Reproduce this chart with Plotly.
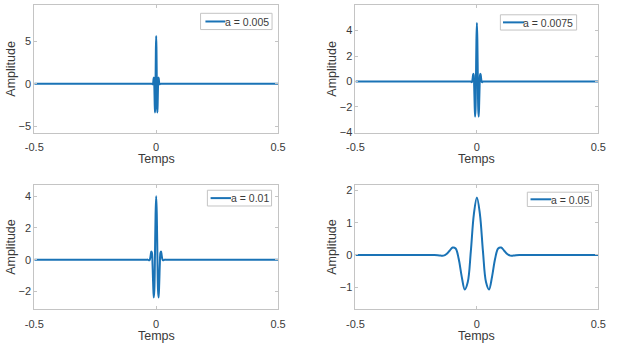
import plotly.graph_objects as go

# ---- data ----
t_a005 = [-0.5, -0.02, -0.0175, -0.015, -0.01375, -0.0125, -0.01125, -0.01, -0.00875, -0.0075,
          -0.00625, -0.005, -0.00375, -0.0025, -0.00125, 0, 0.00125, 0.0025, 0.00375, 0.005,
          0.00625, 0.0075, 0.00875, 0.01, 0.01125, 0.0125, 0.01375, 0.015, 0.0175, 0.02, 0.5]
y_a005 = [0, 0, -0.01, -0.06, -0.05, 0.09, 0.40, 0.73, 0.63, -0.38,
          -2.12, -3.38, -2.67, 0.35, 4.00, 5.64, 4.00, 0.35, -2.67, -3.38,
          -2.12, -0.38, 0.63, 0.73, 0.40, 0.09, -0.05, -0.06, -0.01, 0, 0]

t_a0075 = [-0.5, -0.03, -0.0263, -0.0225, -0.0206, -0.0188, -0.0169, -0.015, -0.0131, -0.0113,
           -0.0094, -0.0075, -0.0056, -0.0038, -0.0019, 0, 0.0019, 0.0038, 0.0056, 0.0075,
           0.0094, 0.0113, 0.0131, 0.015, 0.0169, 0.0188, 0.0206, 0.0225, 0.0263, 0.03, 0.5]
y_a0075 = [0, 0, 0, -0.05, -0.04, 0.07, 0.33, 0.60, 0.51, -0.31,
           -1.73, -2.76, -2.18, 0.29, 3.26, 4.60, 3.26, 0.29, -2.18, -2.76,
           -1.73, -0.31, 0.51, 0.60, 0.33, 0.07, -0.04, -0.05, 0, 0, 0]

t_a01 = [-0.5, -0.04, -0.035, -0.03, -0.0275, -0.025, -0.0225, -0.02, -0.0175, -0.015,
         -0.0125, -0.01, -0.0075, -0.005, -0.0025, 0, 0.0025, 0.005, 0.0075, 0.01,
         0.0125, 0.015, 0.0175, 0.02, 0.0225, 0.025, 0.0275, 0.03, 0.035, 0.04, 0.5]
y_a01 = [0, 0, 0, -0.04, -0.04, 0.06, 0.28, 0.52, 0.44, -0.27,
         -1.50, -2.39, -1.89, 0.25, 2.83, 3.99, 2.83, 0.25, -1.89, -2.39,
         -1.50, -0.27, 0.44, 0.52, 0.28, 0.06, -0.04, -0.04, 0, 0, 0]

t_a05 = [-0.5, -0.2, -0.175, -0.15, -0.1375, -0.125, -0.1125, -0.1, -0.0875, -0.075,
         -0.0625, -0.05, -0.0375, -0.025, -0.0125, 0, 0.0125, 0.025, 0.0375, 0.05,
         0.0625, 0.075, 0.0875, 0.1, 0.1125, 0.125, 0.1375, 0.15, 0.175, 0.2, 0.5]
y_a05 = [0, 0, 0, -0.02, -0.02, 0.03, 0.13, 0.23, 0.20, -0.12,
         -0.67, -1.07, -0.84, 0.11, 1.26, 1.78, 1.26, 0.11, -0.84, -1.07,
         -0.67, -0.12, 0.20, 0.23, 0.13, 0.03, -0.02, -0.02, 0, 0, 0]

labels = ["a = 0.005", "a = 0.0075", "a = 0.01", "a = 0.05"]
series_t = [t_a005, t_a0075, t_a01, t_a05]
series_y = [y_a005, y_a0075, y_a01, y_a05]

x_ticks = [-0.5, 0, 0.5]
x_ticklabels = ["-0.5", "0", "0.5"]
y_ticks = [[-5, 0, 5], [-4, -2, 0, 2, 4], [-2, 0, 2, 4], [-1, 0, 1, 2]]
y_ranges = [[-5.81, 9.34], [-4.05, 6.04], [-3.14, 4.73], [-1.69, 2.18]]

# ---- layout geometry (px) ----
W, H = 617, 348
col_x = [(26.0, 276.7), (356.3, 606.0)]
row_y = [(4.7, 135.0), (187.3, 314.0)]
LINE = "#1a73b6"
AXC = "#c4c4c4"
TXT = "#3a3a3a"
FONT = "Liberation Sans, Arial, sans-serif"

# legend boxes: (x0, y0, x1, y1), sample line (x0, x1, y), label right edge
legend_box = [(197.0, 13.5, 270.5, 30.0), (505.3, 15.0, 583.7, 30.5),
              (204.0, 193.0, 270.0, 209.0), (533.0, 195.0, 599.0, 209.5)]
legend_line = [(202.0, 222.5, 21.8), (508.0, 529.7, 22.7),
               (207.3, 228.3, 201.0), (536.3, 557.7, 202.2)]
legend_text_right = [267.0, 580.5, 267.0, 596.0]

fig = go.Figure()
shapes = []
annotations = []

for i in range(4):
    r, c = divmod(i, 2)
    sfx = "" if i == 0 else str(i + 1)
    fig.add_trace(go.Scatter(
        x=series_t[i], y=series_y[i], mode="lines", name=labels[i],
        line=dict(color=LINE, width=2, shape="spline", smoothing=1),
        xaxis="x" + sfx, yaxis="y" + sfx, showlegend=False,
    ))
    x0, x1 = col_x[c]
    y0, y1 = row_y[r]
    common = dict(showline=True, linecolor=AXC, linewidth=1, mirror="ticks",
                  ticks="inside", ticklen=3, tickcolor=AXC, showgrid=False,
                  zeroline=False, tickfont=dict(family=FONT, size=11, color=TXT))
    fig.update_layout(**{
        "xaxis" + sfx: dict(domain=[x0 / W, x1 / W], range=[-0.5, 0.5],
                            tickvals=x_ticks, ticktext=x_ticklabels,
                            ticklabelstandoff=4, anchor="y" + sfx, **common),
        "yaxis" + sfx: dict(domain=[1 - y1 / H, 1 - y0 / H], range=y_ranges[i],
                            tickvals=y_ticks[i], anchor="x" + sfx,
                            title=dict(text="Amplitude", standoff=0,
                                       font=dict(family=FONT, size=12.5, color=TXT)),
                            **common),
    })
    # x-axis title
    annotations.append(dict(text="Temps", x=(x0 + x1) / 2 / W, y=1 - (y1 + 26.5) / H,
                            xref="paper", yref="paper", showarrow=False, borderpad=0,
                            xanchor="center", yanchor="middle",
                            font=dict(family=FONT, size=12.5, color=TXT)))
    # legend (box, sample line, label)
    bx0, by0, bx1, by1 = legend_box[i]
    shapes.append(dict(type="rect", xref="paper", yref="paper",
                       x0=bx0 / W, x1=bx1 / W, y0=1 - by1 / H, y1=1 - by0 / H,
                       line=dict(color=AXC, width=1), fillcolor="white", layer="above"))
    lx0, lx1, ly = legend_line[i]
    shapes.append(dict(type="line", xref="paper", yref="paper",
                       x0=lx0 / W, x1=lx1 / W, y0=1 - ly / H, y1=1 - ly / H,
                       line=dict(color=LINE, width=2), layer="above"))
    annotations.append(dict(text=labels[i], x=(legend_text_right[i] + 2) / W,
                            y=1 - (ly + 0.3) / H,
                            xref="paper", yref="paper", showarrow=False,
                            xanchor="right", yanchor="middle",
                            font=dict(family=FONT, size=10.5, color=TXT)))

fig.update_layout(width=W, height=H, margin=dict(l=0, r=0, t=0, b=0),
                  paper_bgcolor="white", plot_bgcolor="white",
                  annotations=annotations, shapes=shapes, showlegend=False)

fig.write_html("out.html")
